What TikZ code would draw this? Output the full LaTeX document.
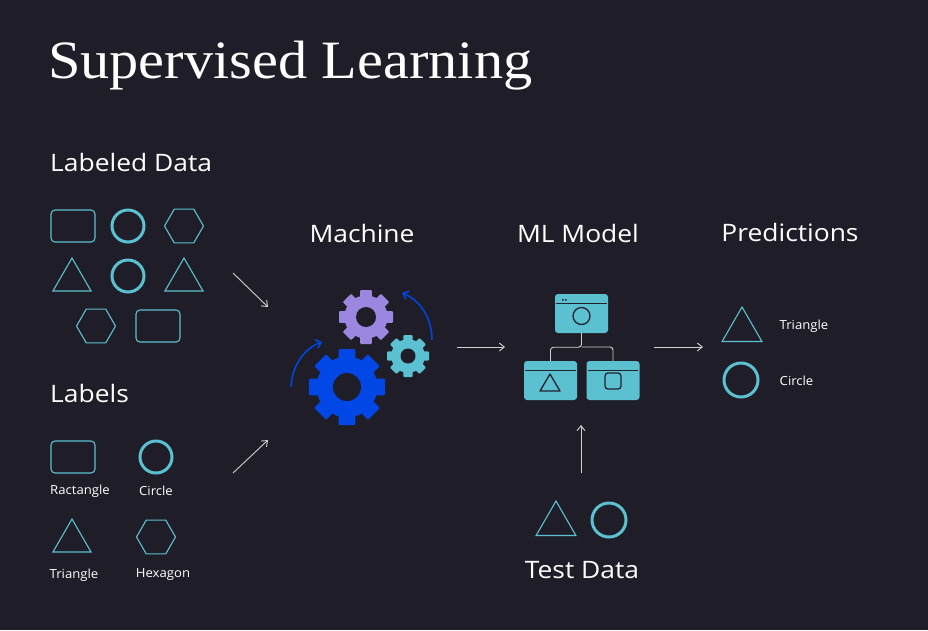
\documentclass[tikz,border=0pt]{standalone}
\usepackage{fontspec}
\setmainfont{Open Sans}
\newfontfamily\titlefont{Liberation Serif}
\usetikzlibrary{arrows.meta,shapes.geometric}
\definecolor{bg}{HTML}{1F1E28}
\definecolor{teal}{HTML}{5BC0D0}
\definecolor{purp}{HTML}{9B87E0}
\definecolor{blu}{HTML}{0047E6}
\definecolor{lgray}{HTML}{D0D0D0}
\definecolor{dk}{HTML}{23232C}
\tikzset{
 thin shape/.style={draw=teal,line width=1.1pt},
 thick circ/.style={draw=teal,line width=3pt,circle,minimum size=32pt,inner sep=0pt},
 rectsh/.style={thin shape,rounded corners=4pt,minimum width=44pt,minimum height=32pt,inner sep=0pt},
 hexsh/.style={thin shape,regular polygon,regular polygon sides=6,minimum size=39pt,inner sep=0pt},
 trish/.style={thin shape,regular polygon,regular polygon sides=3,minimum size=44pt,inner sep=0pt},
 head/.style={text=white,font=\fontsize{24}{28}\selectfont,xscale=1.1},
 small/.style={text=white,font=\fontsize{12.5}{15}\selectfont,xscale=1.05},
 conn/.style={draw=lgray,line width=0.9pt,-{Straight Barb[length=5pt,width=8pt]}},
 barrow/.style={draw=blu,line width=1.5pt,-{Straight Barb[length=5pt,width=9pt]}},
 mbox/.style={fill=teal,rounded corners=3pt,minimum width=53pt,minimum height=39pt,inner sep=0pt},
}
\newcommand{\mygear}[5]{% x y r hole color
 \fill[#5] (#1,#2) circle (#3*0.8);
 \foreach \a in {0,45,...,315}{
  \fill[#5,rotate around={\a:(#1,#2)},rounded corners=1pt] (#1-#3*0.22,#2) rectangle (#1+#3*0.22,#2+#3);
 }
 \fill[bg] (#1,#2) circle (#4);
}
\begin{document}
\begin{tikzpicture}[x=1pt,y=-1pt]
\fill[bg] (0,0) rectangle (928,630);
\useasboundingbox (0,0) rectangle (928,630);
\node[anchor=base west,text=white,font=\titlefont\fontsize{54}{60}\selectfont,inner sep=0pt,xscale=1.08] (title) at (48,78) {Supervised Learning};
\node[head,anchor=base west,inner sep=0pt] (ld) at (50,171) {Labeled Data};
\node[head,anchor=base west,inner sep=0pt] (lb) at (50,402) {Labels};
% labeled data
\node[rectsh] (r1) at (73,226) {};
\node[thick circ] (c1) at (128,226) {};
\node[hexsh] (h1) at (184,226) {};
\node[trish] (t1) at (72,280) {};
\node[thick circ] (c2) at (128,276) {};
\node[trish] (t2) at (184,280) {};
\node[hexsh] (h2) at (96,326) {};
\node[rectsh] (r2) at (158,326) {};
% labels
\node[rectsh] (r3) at (73,457) {};
\node[thick circ] (c3) at (156,457) {};
\node[trish] (t3) at (72,541) {};
\node[hexsh] (h3) at (156,537) {};
\node[small] (lr) at (80,491) {Ractangle};
\node[small] (lc) at (156,491) {Circle};
\node[small] (lt) at (74,575) {Triangle};
\node[small] (lh) at (163,575) {Hexagon};
\coordinate (a1s) at (233,273); \coordinate (a1e) at (268,307);
\coordinate (a2s) at (233,473); \coordinate (a2e) at (268,440);
\draw[conn] (a1s) -- (a1e);
\draw[conn] (a2s) -- (a2e);
% machine
\node[head] (mach) at (362,233) {Machine};
\mygear{347}{387}{38}{14}{blu}
\mygear{366}{317}{27}{10}{purp}
\mygear{408}{356}{21}{7.5}{teal}
\coordinate (b1s) at (291,387); \coordinate (b1e) at (322,342);
\coordinate (b2s) at (432,340); \coordinate (b2e) at (402,293);
\draw[barrow] (b1s) .. controls (292,365) and (305,348) .. (b1e);
\draw[barrow] (b2s) .. controls (432,318) and (420,300) .. (b2e);
\coordinate (m1s) at (457,347); \coordinate (m1e) at (505,347);
\draw[conn] (m1s) -- (m1e);
% ML model
\node[head] (mlm) at (578,233) {ML Model};
\node[mbox] (top) at (581.5,313.5) {};
\node[mbox] (bl) at (550.5,380.5) {};
\node[mbox] (br) at (613,380.5) {};
\draw[dk,line width=1pt] (556,303) -- (607,303) (525,370) -- (576,370) (588,370) -- (638,370);
\fill[dk] (562,299) rectangle (563.5,300.5) (565,299) rectangle (566.5,300.5);
\draw[dk,line width=1.3pt] (581.5,316) circle (8.5);
\draw[dk,line width=1.3pt,line join=round] (540,391) -- (560,391) -- (550,374) -- cycle;
\draw[dk,line width=1.3pt,rounded corners=3pt] (605,373) rectangle (621,389);
\draw[lgray,line width=0.9pt,rounded corners=3pt] (top.south) -- ++(0,14) -| (bl.north);
\draw[lgray,line width=0.9pt,rounded corners=3pt] (581.5,347) -| (br.north);
\coordinate (m2s) at (654,347); \coordinate (m2e) at (703,347);
\draw[conn] (m2s) -- (m2e);
\coordinate (tds) at (581,473); \coordinate (tde) at (581,425);
\draw[conn] (tds) -- (tde);
% test data
\node[trish,minimum size=46pt] (t4) at (556,524) {};
\node[thick circ,minimum size=34pt] (c4) at (609,520) {};
\node[head] (td) at (582,570) {Test Data};
% predictions
\node[head] (pred) at (790,232) {Predictions};
\node[trish,minimum size=46pt] (t5) at (742,330) {};
\node[thick circ,minimum size=34pt] (c5) at (741,380) {};
\node[small,anchor=west] (pt) at (776,326) {Triangle};
\node[small,anchor=west] (pc) at (776,381) {Circle};
\end{tikzpicture}
\end{document}
